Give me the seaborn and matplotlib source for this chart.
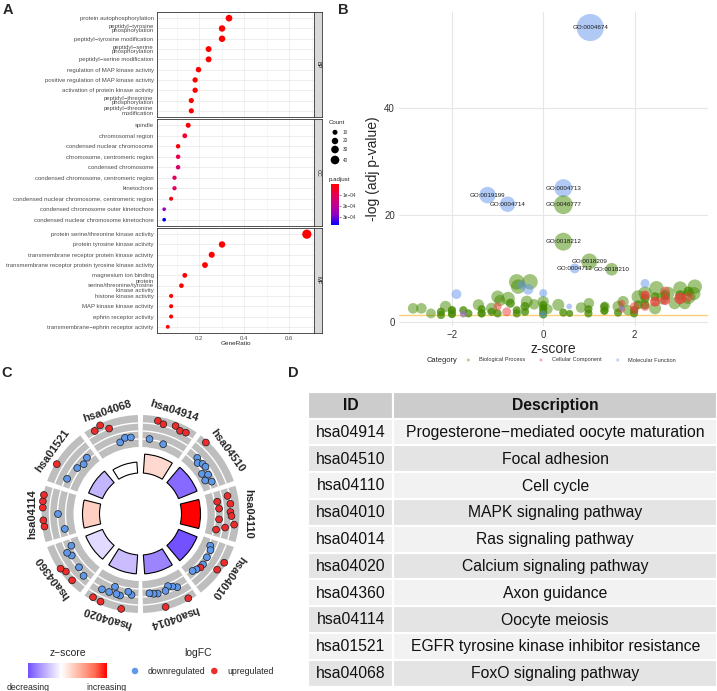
import numpy as np
import pandas as pd
import matplotlib.pyplot as plt
import seaborn as sns
from matplotlib.colors import LinearSegmentedColormap, Normalize
from matplotlib.cm import ScalarMappable
from matplotlib.patches import Wedge, Arc, Rectangle

sns.set_style('white')
plt.rcParams['font.family'] = ['Liberation Sans', 'DejaVu Sans']

# ---------------- panel A : GO enrichment dotplot ----------------
bp_terms = ['protein autophosphorylation', 'peptidyl−tyrosine\nphosphorylation',
            'peptidyl−tyrosine modification', 'peptidyl−serine\nphosphorylation',
            'peptidyl−serine modification', 'regulation of MAP kinase activity',
            'positive regulation of MAP kinase activity', 'activation of protein kinase activity',
            'peptidyl−threonine\nphosphorylation', 'peptidyl−threonine\nmodification']
bp_ratio = [0.332, 0.301, 0.301, 0.241, 0.241, 0.196, 0.181, 0.181, 0.164, 0.164]
bp_count = [22, 20, 20, 16, 16, 13, 12, 12, 11, 11]
bp_padj = [1e-12, 2e-10, 3e-10, 1e-8, 2e-8, 3e-7, 1e-6, 1e-6, 2e-6, 3e-6]

cc_terms = ['spindle', 'chromosomal region', 'condensed nuclear chromosome',
            'chromosome, centromeric region', 'condensed chromosome',
            'condensed chromosome, centromeric region', 'kinetochore',
            'condensed nuclear chromosome, centromeric region',
            'condensed chromosome outer kinetochore', 'condensed nuclear chromosome kinetochore']
cc_ratio = [0.150, 0.135, 0.105, 0.105, 0.105, 0.089, 0.089, 0.074, 0.043, 0.043]
cc_count = [10, 9, 7, 7, 7, 6, 6, 5, 3, 3]
cc_padj = [8e-6, 5e-5, 1.5e-5, 9e-5, 1.3e-4, 1.1e-4, 1.1e-4, 2.5e-5, 2.6e-4, 3.7e-4]

mf_terms = ['protein serine/threonine kinase activity', 'protein tyrosine kinase activity',
            'transmembrane receptor protein kinase activity',
            'transmembrane receptor protein tyrosine kinase activity', 'magnesium ion binding',
            'protein\nserine/threonine/tyrosine\nkinase activity', 'histone kinase activity',
            'MAP kinase kinase activity', 'ephrin receptor activity',
            'transmembrane−ephrin receptor activity']
mf_ratio = [0.679, 0.301, 0.255, 0.225, 0.135, 0.120, 0.074, 0.074, 0.074, 0.059]
mf_count = [46, 20, 17, 15, 9, 8, 5, 5, 5, 4]
mf_padj = [1e-30, 1e-12, 1e-11, 1e-10, 2e-7, 5e-7, 2e-6, 3e-6, 3e-6, 6e-6]

# ---------------- panel B : GO bubble plot ----------------
go_ids = ['GO:0004674', 'GO:0019199', 'GO:0004714', 'GO:0004713', 'GO:0046777',
          'GO:0018212', 'GO:0018209', 'GO:0004712', 'GO:0018210']
go_cat = ['Molecular Function', 'Molecular Function', 'Molecular Function', 'Molecular Function',
          'Biological Process', 'Biological Process', 'Biological Process',
          'Molecular Function', 'Biological Process']
go_z = [1.03, -1.22, -0.78, 0.44, 0.44, 0.44, 1.01, 0.69, 1.50]
go_logp = [55.0, 23.7, 22.0, 25.0, 21.9, 15.0, 11.3, 10.0, 9.85]
go_count = [46, 17, 15, 20, 22, 20, 16, 6, 10]

bub_bp_z = [-2.85, -2.67, -2.46, -2.14, -1.42, -1.13, -1.00, -0.77, -0.58, -0.55, -0.29, -0.36,
            0.00, 0.33, 0.83, 1.00, 1.35, 1.64, 1.86, 2.08, 2.23, 2.48, 2.74, 3.00, 3.32, 3.18,
            2.88, 2.45, -0.95, -0.20, 0.10, 1.75, 2.60, 3.10, 3.30,
            -2.24, -2.24, -2.24, -2.24, -2.00, -2.00, -2.00, -2.00, -2.00, -2.00, -1.64, -1.64,
            -1.35, -1.35, -1.35, -1.35, -1.35, -1.13, -1.13, -1.00, -1.00, -0.72, -0.72,
            -0.58, -0.58, -0.58, -0.58, -0.40, -0.40, -0.40, -0.40,
            0.00, 0.00, 0.00, 0.00, 0.00, 0.00, 0.00, 0.44, 0.44, 0.58, 0.58,
            0.99, 0.99, 0.99, 0.99, 1.34, 1.34, 1.34, 1.34, 1.34, 1.64, 1.64,
            1.99, 1.99, 1.99, 1.99, 2.23, 2.23, 2.23, 2.23, 2.45, 2.45, 2.67, 2.67,
            3.00, 3.00, 3.18, 3.18, 2.08, 2.08, -1.75, -1.75, 0.00, 0.00]
bub_bp_logp = [2.55, 2.55, 1.6, 2.9, 3.2, 2.55, 4.7, 4.4, 7.5, 6.6, 7.5, 3.8,
               3.8, 3.2, 2.7, 3.5, 2.9, 2.9, 2.2, 4.7, 5.4, 6.3, 5.4, 6.3, 6.6, 4.7,
               3.5, 2.55, 4.0, 3.3, 2.4, 3.8, 4.4, 3.5, 5.3,
               1.93, 1.93, 1.3, 1.3, 2.2, 2.2, 2.2, 1.5, 1.5, 1.5, 1.6, 1.6,
               2.4, 2.4, 1.6, 1.6, 1.6, 1.9, 1.9, 1.6, 1.6, 3.5, 3.5,
               2.2, 2.2, 1.6, 1.6, 2.9, 2.9, 1.9, 1.9,
               3.2, 3.2, 2.55, 2.55, 2.55, 1.9, 1.9, 1.75, 1.75, 1.6, 1.6,
               2.4, 2.4, 1.6, 1.6, 2.9, 2.9, 2.1, 2.1, 2.1, 1.75, 1.75,
               2.2, 2.2, 1.6, 1.6, 4.4, 4.4, 3.2, 3.2, 4.7, 4.7, 5.0, 5.0,
               5.0, 5.0, 5.7, 5.7, 3.2, 3.2, 2.2, 2.2, 1.4, 1.4]
bub_bp_n = [7, 7, 6, 8, 8, 8, 10, 11, 15, 13, 15, 9,
            8, 9, 7, 7, 6, 8, 7, 11, 11, 13, 10, 12, 13, 13,
            9, 9, 8, 7, 6, 8, 9, 9, 11,
            4, 4, 4, 4, 4, 4, 4, 4, 4, 4, 4, 4,
            4, 4, 4, 4, 4, 4, 4, 4, 4, 5, 5,
            4, 4, 4, 4, 5, 5, 4, 4,
            4, 4, 4, 4, 4, 4, 4, 4, 4, 3, 3,
            4, 4, 4, 4, 4, 4, 4, 4, 4, 4, 4,
            4, 4, 4, 4, 5, 5, 5, 5, 5, 5, 6, 6,
            6, 6, 6, 6, 5, 5, 4, 4, 4, 4]

bub_cc_z = [-1.00, -0.80, 1.72, 2.00, 2.23, 2.23, 2.45, 2.67, 2.67, 3.00, 3.18, 1.72, 2.00,
            -1.75, 2.45, 2.67, 3.00, 2.23]
bub_cc_logp = [2.9, 1.9, 3.5, 2.9, 5.0, 2.9, 3.8, 4.1, 5.7, 4.4, 4.7, 2.4, 2.2,
               1.5, 3.8, 4.1, 4.4, 5.0]
bub_cc_n = [4, 5, 3, 5, 5, 5, 6, 6, 6, 8, 6, 3, 4, 3, 6, 6, 8, 5]

bub_mf_z = [-1.90, -0.47, -0.33, 0.00, 0.57, 0.00, -1.75, 2.23, 1.72]
bub_mf_logp = [5.2, 6.9, 6.1, 5.4, 2.9, 1.5, 1.5, 7.2, 2.55]
bub_mf_n = [6, 5, 7, 4, 2, 3, 3, 5, 2]

# ---------------- panels C / D : KEGG circle + table ----------------
kegg_ids = ['hsa04914', 'hsa04510', 'hsa04110', 'hsa04010', 'hsa04014',
            'hsa04020', 'hsa04360', 'hsa04114', 'hsa01521', 'hsa04068']
kegg_desc = ['Progesterone−mediated oocyte maturation', 'Focal adhesion', 'Cell cycle',
             'MAPK signaling pathway', 'Ras signaling pathway', 'Calcium signaling pathway',
             'Axon guidance', 'Oocyte meiosis', 'EGFR tyrosine kinase inhibitor resistance',
             'FoxO signaling pathway']
kegg_z = [0.6, -1.9, 3.0, -2.2, -1.6, -0.9, -0.5, 0.75, -1.0, 0.0]
kegg_bar = [19, 20, 19, 20, 19, 19, 18, 17, 15, 11]

lfc_04914 = [-1.4, 2.2, 1.8, -1.8, 2.2, 1.7, 1.9]
lfc_04510 = [2.6, -0.6, -1.2, -0.6, -0.5, -1.8, -0.9, -1.9, -0.9]
lfc_04110 = [1.1, -1.0, 1.4, -0.8, 1.3, 1.5, -0.8, 2.1, 0.5, -1.1]
lfc_04010 = [-1.2, -0.8, 2.6, -0.7, 2.2, -0.5, -0.5, -0.8, -1.1]
lfc_04014 = [2.6, -0.2, -0.7, -1.1, -0.4, 2.5, -0.3, -0.4, -0.6]
lfc_04020 = [-0.3, -0.8, 2.6, 0.2, 0.1, -1.1, 0.2, 2.5, 0.3, 2.4]
lfc_04360 = [0.2, 2.3, -0.3, 2.1, 2.6, -0.5, 0.0, -1.3]
lfc_04114 = [-1.1, 2.6, 2.7, -0.1, 2.8, 2.9, 2.9]
lfc_01521 = [-0.3, 2.7, -0.9, -1.4, -1.0]
lfc_04068 = [2.2, 2.7, 1.5, -1.6, -1.0, -1.1]
reg_04914 = 'duuduuu'
reg_04510 = 'udddddddd'
reg_04110 = 'uuuuuuuuuu'
reg_04010 = 'ddudududd'
reg_04014 = 'udddduddd'
reg_04020 = 'dduddddudu'
reg_04360 = 'duduuddd'
reg_04114 = 'duuduuu'
reg_01521 = 'duddd'
reg_04068 = 'uuuddd'

W, H = 717, 691
fig = plt.figure(figsize=(W / 100, H / 100), dpi=100)


def px_axes(l, t, r, b):
    return fig.add_axes([l / W, 1 - b / H, (r - l) / W, (b - t) / H])


def px_text(x, y, s, **kw):
    fig.text(x / W, 1 - y / H, s, **kw)


# ================= A =================
cmap_p = LinearSegmentedColormap.from_list(
    'padj', ['#FF0000', '#E8004F', '#C2008F', '#8F00C4', '#0000FF'])
p_range = (0, 3.7e-4)
sizes_a = (7, 44)
count_range = (3, 46)

dfa = pd.concat([
    pd.DataFrame({'term': bp_terms, 'GeneRatio': bp_ratio, 'Count': bp_count,
                  'p.adjust': bp_padj, 'ont': 'BP'}),
    pd.DataFrame({'term': cc_terms, 'GeneRatio': cc_ratio, 'Count': cc_count,
                  'p.adjust': cc_padj, 'ont': 'CC'}),
    pd.DataFrame({'term': mf_terms, 'GeneRatio': mf_ratio, 'Count': mf_count,
                  'p.adjust': mf_padj, 'ont': 'MF'}),
])

facets = [('BP', 12, 117), ('CC', 119, 226), ('MF', 228, 333)]
for ont, top, bot in facets:
    ax = px_axes(157, top, 314, bot)
    sub = dfa[dfa['ont'] == ont].reset_index(drop=True)
    sub['pos'] = np.arange(len(sub))
    sns.scatterplot(data=sub, x='GeneRatio', y='pos', hue='p.adjust', size='Count',
                    palette=cmap_p, hue_norm=p_range, sizes=sizes_a, size_norm=count_range,
                    edgecolor='none', legend=False, ax=ax, zorder=3)
    ax.set_xlim(0.011, 0.711)
    ax.set_ylim(len(sub) - 0.4, -0.6)
    ax.set_yticks(sub['pos'])
    ax.set_yticklabels(sub['term'], fontsize=4.3, color='#4D4D4D', linespacing=0.85)
    ax.set_xticks([0.2, 0.4, 0.6])
    ax.set_xticks([0.1, 0.3, 0.5, 0.7], minor=True)
    ax.grid(True, which='major', color='#EBEBEB', lw=0.6)
    ax.grid(True, which='minor', axis='x', color='#F2F2F2', lw=0.4)
    ax.set_axisbelow(True)
    ax.tick_params(axis='both', which='major', length=1.5, width=0.4, pad=1,
                   labelsize=4.3, colors='#4D4D4D')
    ax.tick_params(which='minor', length=0)
    for sp in ax.spines.values():
        sp.set_color('#333333')
        sp.set_linewidth(0.6)
    ax.set_xlabel('')
    ax.set_ylabel('')
    if ont != 'MF':
        ax.set_xticklabels([])
        ax.tick_params(axis='x', length=0)
    else:
        ax.set_xticklabels(['0.2', '0.4', '0.6'])
    strip = px_axes(314, top, 322, bot)
    strip.set_facecolor('#D9D9D9')
    strip.set_xticks([])
    strip.set_yticks([])
    for sp in strip.spines.values():
        sp.set_color('#333333')
        sp.set_linewidth(0.6)
    strip.text(0.5, 0.5, ont, rotation=-90, ha='center', va='center', fontsize=4,
               color='#1A1A1A', transform=strip.transAxes)

px_text(236, 344, 'GeneRatio', ha='center', va='center', fontsize=4.6)

# Count legend
leg = px_axes(325, 116, 360, 166)
leg.set_xlim(325, 360)
leg.set_ylim(166, 116)
leg.axis('off')
leg.text(329, 123, 'Count', fontsize=4.4, va='center')
for c, yy in zip([10, 20, 30, 40], [132.3, 141, 149.5, 160]):
    s = sizes_a[0] + (c - count_range[0]) / (count_range[1] - count_range[0]) * (sizes_a[1] - sizes_a[0])
    leg.scatter([335], [yy], s=s, color='black', edgecolor='none')
    leg.text(343, yy, str(c), fontsize=3.4, va='center', color='#333333')

# p.adjust colorbar
px_text(329, 179, 'p.adjust', fontsize=4.4, va='center')
cax = px_axes(331, 184, 339, 225)
cb = fig.colorbar(ScalarMappable(norm=Normalize(*p_range), cmap=cmap_p), cax=cax)
cax.invert_yaxis()
cb.outline.set_visible(False)
cb.set_ticks([1e-4, 2e-4, 3e-4])
cb.set_ticklabels(['1e−04', '2e−04', '3e−04'])
cax.tick_params(labelsize=3.4, length=1.5, width=0.4, colors='#333333', pad=1)

# ================= B =================
cat_colors = {'Biological Process': '#458B00', 'Cellular Component': '#EE3B3B',
              'Molecular Function': '#6495ED'}
dfb = pd.concat([
    pd.DataFrame({'zscore': go_z, 'logp': go_logp, 'count': go_count, 'category': go_cat}),
    pd.DataFrame({'zscore': bub_bp_z, 'logp': bub_bp_logp, 'count': bub_bp_n,
                  'category': 'Biological Process'}),
    pd.DataFrame({'zscore': bub_cc_z, 'logp': bub_cc_logp, 'count': bub_cc_n,
                  'category': 'Cellular Component'}),
    pd.DataFrame({'zscore': bub_mf_z, 'logp': bub_mf_logp, 'count': bub_mf_n,
                  'category': 'Molecular Function'}),
], ignore_index=True)

axb = px_axes(399, 12, 708, 326)
sns.scatterplot(data=dfb, x='zscore', y='logp', hue='category', size='count',
                palette=cat_colors, sizes=(0, 415), size_norm=(0, 50), alpha=0.5,
                edgecolor='none', legend=False, ax=axb, zorder=3)
axb.axhline(1.3, color='orange', lw=1.0, alpha=0.55, zorder=2)
for gid, gz, gp in zip(go_ids, go_z, go_logp):
    axb.text(gz, gp, gid, fontsize=4.5, ha='center', va='center', color='#1A1A1A', zorder=4)
axb.set_xlim(-3.16, 3.61)
axb.set_ylim(-0.75, 57.9)
axb.set_xticks([-2, 0, 2])
axb.set_yticks([0, 20, 40])
axb.grid(True, color='#E6E6E6', lw=0.8)
axb.set_axisbelow(True)
for sp in axb.spines.values():
    sp.set_visible(False)
axb.tick_params(length=0, labelsize=7, colors='#333333', pad=3)
axb.set_xlabel('z-score', fontsize=10, labelpad=1)
axb.set_ylabel('-log (adj p-value)', fontsize=10, labelpad=3)

legb = px_axes(420, 352, 700, 368)
legb.set_xlim(420, 700)
legb.set_ylim(368, 352)
legb.axis('off')
legb.text(426.7, 360, 'Category', fontsize=5.4, va='center')
for xx, lab in zip([468.3, 541, 617.7], cat_colors):
    legb.scatter([xx], [360], s=5, color=cat_colors[lab], alpha=0.4, edgecolor='none')
    legb.text(xx + 10.5, 360, lab, fontsize=4.1, va='center', color='#333333')

# ================= C =================
cmap_z = LinearSegmentedColormap.from_list(
    'zsc', ['#0000FF', '#6F4DFF', '#A58EFF', '#D4C8FF', '#FFFFFF',
            '#FFD0C3', '#FFA08A', '#FF6A50', '#FF0000'])
norm_z = Normalize(-3, 3)

axc = px_axes(0, 380, 290, 650)
axc.set_xlim(-140.5, 149.5)
axc.set_ylim(-136, 134)
axc.axis('off')

lfc_all = [lfc_04914, lfc_04510, lfc_04110, lfc_04010, lfc_04014,
           lfc_04020, lfc_04360, lfc_04114, lfc_01521, lfc_04068]
reg_all = [reg_04914, reg_04510, reg_04110, reg_04010, reg_04014,
           reg_04020, reg_04360, reg_04114, reg_01521, reg_04068]

step = 360 / len(kegg_ids)
r_base, r_tin, r_tout, r_lab = 41, 67, 99, 108
gx, gy, greg = [], [], []
for i, (kid, z, h) in enumerate(zip(kegg_ids, kegg_z, kegg_bar)):
    th = step * (i + 0.5)          # clockwise from top
    ang = 90 - th
    axc.add_patch(Wedge((0, 0), r_tout, ang - 16.5, ang + 16.5, width=r_tout - r_tin,
                        facecolor='#BEBEBE', edgecolor='none', zorder=1))
    for rr in (75, 83, 91):
        axc.add_patch(Arc((0, 0), 2 * rr, 2 * rr, theta1=ang - 16.5, theta2=ang + 16.5,
                          color='white', lw=1.0, zorder=2))
    axc.add_patch(Wedge((0, 0), r_base + h, ang - 14, ang + 14, width=h,
                        facecolor=cmap_z(norm_z(z)), edgecolor='black', lw=0.8, zorder=2))
    tr = np.deg2rad(ang)
    axc.text(r_lab * np.cos(tr), r_lab * np.sin(tr), kid, rotation=-th,
             rotation_mode='anchor', ha='center', va='center', fontsize=8,
             fontweight='bold', zorder=4)
    vals = lfc_all[i]
    n = len(vals)
    for k, (v, rg) in enumerate(zip(vals, reg_all[i])):
        tk = np.deg2rad(90 - (th - 13 + 26 * (k + 0.5) / n))
        rk = (r_tin + r_tout) / 2 + v * (r_tout - r_tin) / 6
        gx.append(rk * np.cos(tk))
        gy.append(rk * np.sin(tk))
        greg.append('up' if rg == 'u' else 'down')

dfg = pd.DataFrame({'gx': gx, 'gy': gy, 'reg': greg})
gene_pal = {'up': '#EE2C2C', 'down': '#5F98E8'}
sns.scatterplot(data=dfg, x='gx', y='gy', hue='reg', palette=gene_pal, s=24,
                edgecolor='#1A1A1A', linewidth=0.5, legend=False, ax=axc, zorder=3)
axc.set_xlabel('')
axc.set_ylabel('')

# z-score legend
px_text(67.5, 653, 'z−score', ha='center', va='center', fontsize=7.5)
zax = px_axes(28.3, 662.7, 106.7, 678.3)
zvals = np.linspace(min(kegg_z), max(kegg_z), 200)
zax.imshow(cmap_z(norm_z(zvals))[None, :, :], aspect='auto')
zax.axis('off')
px_text(28.3, 687, 'decreasing', ha='center', va='center', fontsize=6.3)
px_text(106.7, 687, 'increasing', ha='center', va='center', fontsize=6.3)

px_text(198.5, 653, 'logFC', ha='center', va='center', fontsize=7.5)
lax = px_axes(125, 662, 290, 680)
lax.set_xlim(125, 290)
lax.set_ylim(680, 662)
lax.axis('off')
lax.scatter([135], [671], s=22, color=gene_pal['down'], edgecolor='none')
lax.text(147.7, 671, 'downregulated', fontsize=6.3, va='center')
lax.scatter([214.3], [671], s=22, color=gene_pal['up'], edgecolor='none')
lax.text(227.7, 671, 'upregulated', fontsize=6.3, va='center')

# ================= D =================
axd = px_axes(300, 385, 717, 691)
axd.set_xlim(300, 717)
axd.set_ylim(691, 385)
axd.axis('off')
col_x = [(308.3, 393.5), (393.5, 717)]
row_top, row_h = 391.7, 26.8
cells = [('ID', 'Description')] + list(zip(kegg_ids, kegg_desc))
for j, row in enumerate(cells):
    y0 = row_top + j * row_h
    if j == 0:
        fc = '#CCCCCC'
    else:
        fc = '#F2F2F2' if j % 2 == 1 else '#E4E4E4'
    for (x0, x1), txt in zip(col_x, row):
        axd.add_patch(Rectangle((x0, y0), x1 - x0, row_h, facecolor=fc,
                                edgecolor='white', lw=1.5))
        axd.text((x0 + x1) / 2, y0 + row_h / 2 + 0.5, txt, ha='center', va='center',
                 fontsize=11.3, color='#111111',
                 fontweight='bold' if j == 0 else 'normal')

# panel letters
for lab, x, y in [('A', 8, 10), ('B', 343, 10), ('C', 7, 373), ('D', 293, 373)]:
    px_text(x, y, lab, ha='center', va='center', fontsize=10.5, fontweight='bold')

fig.savefig('out.png', dpi=100)
